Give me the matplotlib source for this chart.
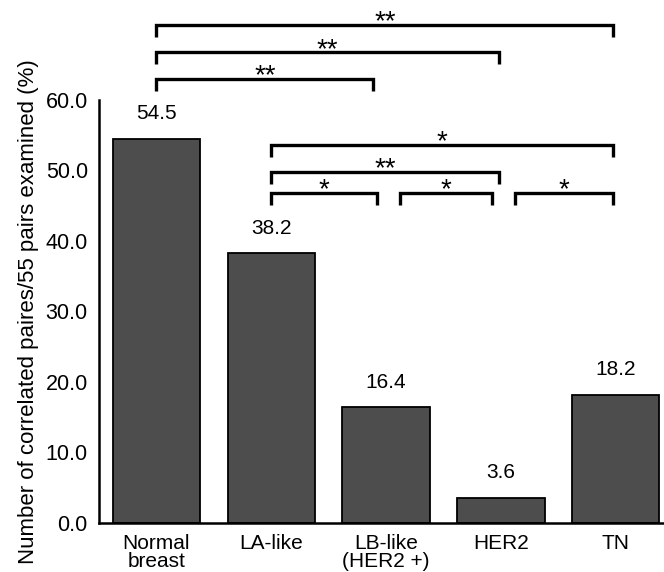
import matplotlib
matplotlib.use("Agg")
import matplotlib.pyplot as plt

plt.rcParams['font.family'] = ['Liberation Sans', 'DejaVu Sans']

# datos
categorias = ['Normal\nbreast', 'LA-like', 'LB-like\n(HER2 +)', 'HER2', 'TN']
valores = [54.5, 38.2, 16.4, 3.6, 18.2]
etiquetas_y = ['0.0', '10.0', '20.0', '30.0', '40.0', '50.0', '60.0']

# comparaciones: (desde, hasta, altura, signo)
comparaciones = [
    (0, 4, 70.6, '**'),
    (0, 3, 66.7, '**'),
    (0, 2, 63.0, '**'),
    (1, 4, 53.6, '*'),
    (1, 3, 49.8, '**'),
    (1, 2, 46.8, '*'),
    (2, 3, 46.8, '*'),
    (3, 4, 46.8, '*'),
]

fig = plt.figure(figsize=(6.64, 5.72), dpi=100)
ax = fig.add_axes([0.149, 0.0857, 0.851, 0.740])

x = list(range(len(categorias)))
ax.bar(x, valores, width=0.76, color='#4d4d4d', edgecolor='black', linewidth=1.3)

for xi, v in zip(x, valores):
    ax.annotate(f'{v:.1f}', (xi, v), xytext=(0, 11), textcoords='offset points',
                ha='center', va='bottom', fontsize=15)

ax.set_xlim(-0.50, 4.42)
ax.set_ylim(0, 60)
ax.set_yticks([0, 10, 20, 30, 40, 50, 60])
ax.set_yticklabels(etiquetas_y, fontsize=15.5)
ax.set_xticks(x)
ax.set_xticklabels(categorias, fontsize=15, linespacing=0.95)
ax.tick_params(axis='x', length=0, pad=8)
ax.tick_params(axis='y', length=0, pad=8)
ax.spines['top'].set_visible(False)
ax.spines['right'].set_visible(False)
ax.spines['left'].set_linewidth(1.8)
ax.spines['bottom'].set_linewidth(1.8)
ax.set_ylabel('Number of correlated paires/55 pairs examined (%)', fontsize=16, labelpad=5)

# corchetes de significancia
for a, b, h, signo in comparaciones:
    corto = h < 47
    x0 = a + (0.12 if corto and a > 1 else 0.0)
    x1 = b - (0.08 if corto and b < 4 else 0.02)
    if a == 0 and b == 2:
        x1 = b - 0.11
    ax.plot([x0, x0, x1, x1], [h - 1.7, h, h, h - 1.7], color='black', lw=2.4,
            clip_on=False, solid_joinstyle='miter', solid_capstyle='butt')
    ax.annotate(signo, ((x0 + x1) / 2, h), xytext=(0, -3.2), textcoords='offset points',
                ha='center', va='baseline', fontsize=20, annotation_clip=False)

fig.savefig('out.png', dpi=100)
